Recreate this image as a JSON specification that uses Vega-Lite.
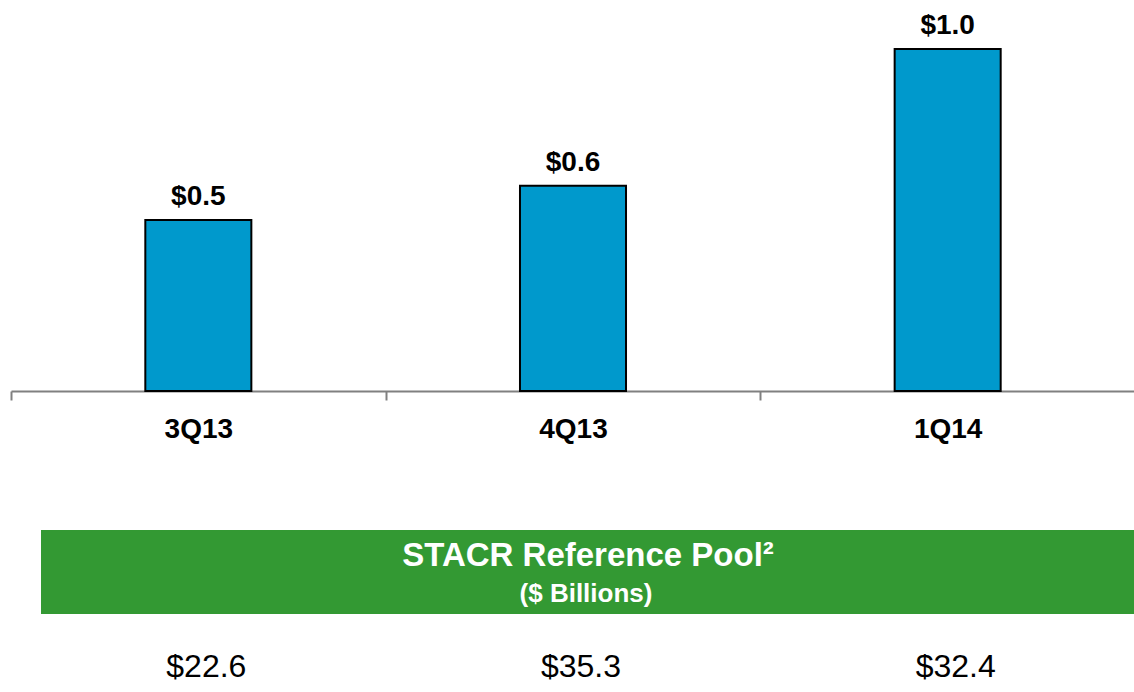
{
  "$schema": "https://vega.github.io/schema/vega-lite/v6.json",
  "padding": {"left": 10, "top": 0, "right": 0, "bottom": 0},
  "background": "white",
  "config": {"view": {"stroke": null}, "font": "Liberation Sans"},
  "datasets": {
    "q": [
      {"q": "3Q13", "v": 0.5, "pool": 22.6},
      {"q": "4Q13", "v": 0.6, "pool": 35.3},
      {"q": "1Q14", "v": 1.0, "pool": 32.4}
    ]
  },
  "bounds": "flush",
  "spacing": 139,
  "vconcat": [
    {
      "width": 1124,
      "height": 391,
      "data": {"name": "q"},
      "encoding": {
        "x": {
          "field": "q",
          "type": "nominal",
          "sort": null,
          "scale": {"paddingInner": 0, "paddingOuter": 0},
          "axis": {
            "title": null,
            "orient": "bottom",
            "labelAngle": 0,
            "labelFontSize": 28,
            "labelFontWeight": "bold",
            "labelColor": "#000000",
            "labelPadding": 15,
            "tickBand": "extent",
            "tickSize": 9,
            "tickWidth": 2,
            "tickColor": "#808080",
            "domainColor": "#808080",
            "domainWidth": 2
          }
        },
        "y": {
          "field": "v",
          "type": "quantitative",
          "scale": {"domain": [0, 1.143], "nice": false, "zero": true},
          "axis": null
        }
      },
      "layer": [
        {
          "mark": {"type": "bar", "width": {"band": 0.283}, "fill": "#0099CC", "stroke": "#000000", "strokeWidth": 2}
        },
        {
          "mark": {"type": "text", "dy": -15, "baseline": "alphabetic", "fontSize": 28, "fontWeight": "bold", "color": "#000000"},
          "encoding": {"text": {"field": "v", "format": "$.1f"}}
        }
      ]
    },
    {
      "bounds": "flush",
      "spacing": 33,
      "vconcat": [
        {
          "width": 1124,
          "height": 84,
          "data": {"values": [{"first": "3Q13", "last": "1Q14", "t1": "STACR Reference Pool²", "t2": "($ Billions)"}]},
          "layer": [
            {
              "mark": {"type": "rect", "fill": "#339933", "xOffset": 30},
              "encoding": {
                "x": {"field": "first", "type": "nominal", "bandPosition": 0, "axis": null, "scale": {"domain": ["3Q13", "4Q13", "1Q14"], "paddingInner": 0, "paddingOuter": 0}},
                "x2": {"field": "last", "bandPosition": 1}
              }
            },
            {
              "mark": {"type": "text", "color": "#FFFFFF", "fontWeight": "bold", "fontSize": 33, "baseline": "middle", "dy": -16, "dx": 15},
              "encoding": {"text": {"field": "t1"}}
            },
            {
              "mark": {"type": "text", "color": "#FFFFFF", "fontWeight": "bold", "fontSize": 26, "baseline": "middle", "dy": 22, "dx": 13},
              "encoding": {"text": {"field": "t2"}}
            }
          ]
        },
        {
          "width": 1124,
          "height": 40,
          "data": {"name": "q"},
          "mark": {"type": "text", "fontSize": 32, "baseline": "middle", "dx": 8, "color": "#000000"},
          "encoding": {
            "x": {"field": "q", "type": "nominal", "sort": null, "axis": null, "scale": {"paddingInner": 0, "paddingOuter": 0}},
            "text": {"field": "pool", "format": "$.1f"}
          }
        }
      ]
    }
  ]
}
